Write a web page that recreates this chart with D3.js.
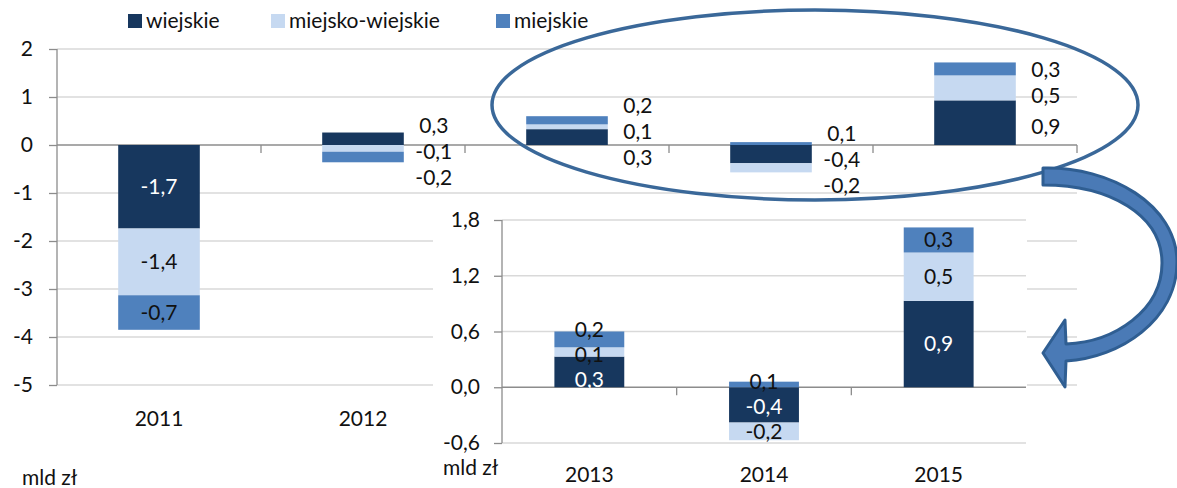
<!DOCTYPE html>
<html lang="pl">
<head>
<meta charset="UTF-8">
<title>wiejskie / miejsko-wiejskie / miejskie</title>
<script src="https://cdn.jsdelivr.net/npm/d3@7"></script>
<style>
    body{ margin:0; background:#fff; }
    svg text{ font-family: Lato, "Open Sans", sans-serif; font-size:21px; fill:#111; }
    .grid line{ stroke:#d9d9d9; stroke-width:1.3; }
    .axis line, .axis path{ stroke:#8c8c8c; stroke-width:1.3; fill:none; }
</style>
</head>
<body>
<script>
// dane (mld zł)
var years = ["2011", "2012", "2013", "2014", "2015"];
var insetYears = ["2013", "2014", "2015"];
var seriesNames = ["wiejskie", "miejsko-wiejskie", "miejskie"];
var wiejskie        = [-1.74,  0.26, 0.33, -0.38, 0.93];
var miejskoWiejskie = [-1.39, -0.14, 0.10, -0.19, 0.52];
var miejskie        = [-0.72, -0.22, 0.17,  0.06, 0.27];
var mainTicks = [-5, -4, -3, -2, -1, 0, 1, 2];
var insetTicks = [-0.6, 0, 0.6, 1.2, 1.8];
var unitLabel = "mld zł";

var colors = { "wiejskie": "#17375E", "miejsko-wiejskie": "#C6D9F1", "miejskie": "#4F81BD" };
var W = 1177, H = 488;

var rows = years.map(function(y, i){
    return { year: y, "wiejskie": wiejskie[i], "miejsko-wiejskie": miejskoWiejskie[i], "miejskie": miejskie[i] };
});

var svg = d3.select("body").append("svg").attr("width", W).attr("height", H);

function fmt(v){ return v.toFixed(1).replace(".", ","); }
function fmtInt(v){ return String(v); }

// rozsuwanie etykiet, zeby sie nie nakladaly
function spread(items, gap){
    items.sort(function(a, b){ return a.ly - b.ly; });
    for (var it = 0; it < 60; it++){
        for (var k = 1; k < items.length; k++){
            var d = items[k].ly - items[k-1].ly;
            if (d < gap){
                var m = (gap - d) / 2;
                items[k-1].ly -= m;
                items[k].ly += m;
            }
        }
    }
    return items;
}

function drawChart(g, data, x, y, ticks, opts){
    var x0 = x.range()[0], x1 = x.range()[1];
    var stacked = d3.stack().keys(seriesNames).offset(d3.stackOffsetDiverging)(data);

    // siatka
    g.append("g").attr("class", "grid")
        .selectAll("line").data(ticks.filter(function(t){ return t !== 0; }))
        .enter().append("line")
        .attr("x1", x0).attr("x2", x1)
        .attr("y1", function(d){ return y(d); }).attr("y2", function(d){ return y(d); });

    // os Y
    var ya = d3.axisLeft(y).tickValues(ticks).tickSize(8).tickPadding(opts.tickPad).tickFormat(opts.tickFmt);
    var yg = g.append("g").attr("class", "axis").attr("transform", "translate(" + x0 + ",0)").call(ya);
    yg.select(".domain").attr("d", "M0," + y.range()[1] + "V" + y.range()[0]);
    yg.selectAll("text").style("font-size", "21px").style("font-family", "Lato, sans-serif").attr("fill", "#111");

    // os X na zerze
    var xa = g.append("g").attr("class", "axis");
    xa.append("line").attr("x1", x0).attr("x2", x1).attr("y1", y(0)).attr("y2", y(0));
    var step = x.step();
    var tk = d3.range(1, opts.endTick ? data.length + 1 : data.length);
    xa.selectAll("line.tk").data(tk)
        .enter().append("line").attr("class", "tk")
        .attr("x1", function(i){ return x0 + i * step; }).attr("x2", function(i){ return x0 + i * step; })
        .attr("y1", y(0)).attr("y2", y(0) + 8);

    // etykiety lat
    g.append("g").selectAll("text").data(data.filter(function(d){ return opts.showYear(d.year); }))
        .enter().append("text")
        .attr("x", function(d){ return x(d.year) + x.bandwidth() / 2; })
        .attr("y", opts.yearY).attr("dy", "0.35em").attr("text-anchor", "middle")
        .text(function(d){ return d.year; });

    // slupki
    var layer = g.append("g").selectAll("g").data(stacked).enter().append("g")
        .attr("fill", function(s){ return colors[s.key]; });
    layer.selectAll("rect").data(function(s){ return s; }).enter().append("rect")
        .attr("x", function(d){ return x(d.data.year); })
        .attr("width", x.bandwidth())
        .attr("y", function(d){ return y(Math.max(d[0], d[1])); })
        .attr("height", function(d){ return Math.abs(y(d[0]) - y(d[1])); });

    // etykiety wartosci
    data.forEach(function(row, i){
        var items = stacked.map(function(s){
            var d = s[i];
            return { key: s.key, v: row[s.key], ly: y((d[0] + d[1]) / 2), h: Math.abs(y(d[0]) - y(d[1])) };
        });
        var inside = opts.insideAll || d3.min(items, function(it){ return it.h; }) >= 20;
        spread(items, inside ? opts.gapIn : opts.gapOut);
        items.forEach(function(it){
            var tx = inside ? x(row.year) + x.bandwidth() / 2 : x(row.year) + x.bandwidth() + opts.outDx;
            g.append("text")
                .attr("x", tx).attr("y", it.ly + (inside ? 0 : opts.outShift)).attr("dy", "0.35em")
                .attr("text-anchor", "middle")
                .style("fill", inside && it.key === "wiejskie" ? "#fff" : "#111")
                .text(fmt(it.v));
        });
    });
}

// wykres glowny
var xMain = d3.scaleBand().domain(years).range([57, 1077]).paddingInner(0.6).paddingOuter(0.3);
var yMain = d3.scaleLinear().domain([-5, 2]).range([385, 49]);
var gMain = svg.append("g");
drawChart(gMain, rows, xMain, yMain, mainTicks, {
    tickPad: 16, tickFmt: fmtInt, yearY: 419, endTick: true,
    showYear: function(yr){ return insetYears.indexOf(yr) < 0; },
    insideAll: false, gapIn: 20, gapOut: 26, outDx: 30, outShift: 4
});
svg.append("text").attr("x", 22).attr("y", 478).attr("dy", "0.35em").text(unitLabel);

// legenda
var lx = [128, 271, 496];
var leg = svg.append("g").selectAll("g").data(seriesNames).enter().append("g")
    .attr("transform", function(d, i){ return "translate(" + lx[i] + ",14)"; });
leg.append("rect").attr("width", 14).attr("height", 14).attr("fill", function(d){ return colors[d]; });
leg.append("text").attr("x", 18).attr("y", 7).attr("dy", "0.35em").text(function(d){ return d; });

// wstawka 2013-2015
svg.append("rect").attr("x", 433).attr("y", 202).attr("width", 594).attr("height", H - 202).attr("fill", "#fff");
var insetRows = rows.filter(function(r){ return insetYears.indexOf(r.year) >= 0; });
var xIn = d3.scaleBand().domain(insetYears).range([502, 1026]).paddingInner(0.6).paddingOuter(0.3);
var yIn = d3.scaleLinear().domain([-0.6, 1.8]).range([443, 220]);
var gIn = svg.append("g");
drawChart(gIn, insetRows, xIn, yIn, insetTicks, {
    tickPad: 14, tickFmt: fmt, yearY: 475, endTick: false,
    showYear: function(){ return true; },
    insideAll: true, gapIn: 25, gapOut: 26, outDx: 30, outShift: 0
});
svg.append("text").attr("x", 443).attr("y", 468).attr("dy", "0.35em").text(unitLabel);

// elipsa
svg.append("ellipse").attr("cx", 815).attr("cy", 105).attr("rx", 323).attr("ry", 95)
    .attr("fill", "none").attr("stroke", "#3A6899").attr("stroke-width", 3.5);

// strzalka
svg.append("path")
    .attr("d", "M1043,168 C1110,166 1177,205 1177,262 C1177,320 1120,358 1066,361 " +
               "L1065,387 L1043,353 L1065,320 L1066,344 " +
               "C1115,342 1162,310 1162,263 C1162,215 1110,185 1043,185 Z")
    .attr("fill", "#4A7AB6").attr("stroke", "#2F5E92").attr("stroke-width", 3).attr("stroke-linejoin", "round");
</script>
</body>
</html>
